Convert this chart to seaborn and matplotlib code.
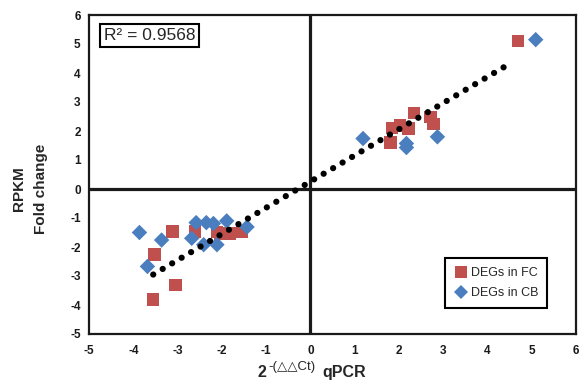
import numpy as np
import pandas as pd
import matplotlib
matplotlib.use("Agg")
import matplotlib.pyplot as plt
import seaborn as sns

# ---- data ----
fc_x = [-3.55, -3.52, -3.11, -3.05, -2.60, -2.11, -2.04, -1.83, -1.55,
        1.81, 1.85, 2.02, 2.22, 2.34, 2.71, 2.78, 4.69]
fc_y = [-3.81, -2.26, -1.47, -3.32, -1.47, -1.48, -1.55, -1.53, -1.48,
        1.60, 2.10, 2.19, 2.08, 2.62, 2.48, 2.25, 5.10]
cb_x = [-3.86, -3.68, -3.36, -2.68, -2.58, -2.41, -2.35, -2.19, -2.11, -1.89, -1.43,
        1.19, 2.17, 2.17, 2.87, 5.09]
cb_y = [-1.50, -2.67, -1.76, -1.70, -1.16, -1.92, -1.16, -1.19, -1.92, -1.10, -1.31,
        1.74, 1.57, 1.43, 1.80, 5.15]
trend_x = [-3.55, 4.48]
trend_y = [-2.95, 4.30]
series_names = ["DEGs in FC", "DEGs in CB"]
x_ticks = [-5, -4, -3, -2, -1, 0, 1, 2, 3, 4, 5, 6]
y_ticks = [-5, -4, -3, -2, -1, 0, 1, 2, 3, 4, 5, 6]
r2_text = "R² = 0.9568"

df = pd.DataFrame({
    "x": fc_x + cb_x,
    "y": fc_y + cb_y,
    "group": [series_names[0]] * len(fc_x) + [series_names[1]] * len(cb_x),
})

sns.set_theme(style="white")
plt.rcParams["font.family"] = ["Liberation Sans", "DejaVu Sans"]
plt.rcParams["axes.unicode_minus"] = False

W, H = 579, 383
fig = plt.figure(figsize=(W / 100, H / 100), dpi=100)
ax = fig.add_axes([89 / W, 1 - 334 / H, (576 - 89) / W, (334 - 15) / H])

# zero axes
ax.axhline(0, color="#1a1a1a", lw=2.3, zorder=1)
ax.axvline(0, color="#1a1a1a", lw=2.3, zorder=1)

# trend line (dotted)
sns.lineplot(x=trend_x, y=trend_y, ax=ax, color="black", linewidth=4.5,
             linestyle=(0, (0.01, 1.75)), dash_capstyle="round", zorder=3)

sns.scatterplot(data=df, x="x", y="y", hue="group", style="group", size="group",
                hue_order=series_names, style_order=series_names,
                size_order=series_names,
                sizes={series_names[0]: 80, series_names[1]: 62},
                markers={series_names[0]: "s", series_names[1]: "D"},
                palette={series_names[0]: "#C0504D", series_names[1]: "#4A7EBE"},
                linewidth=0, ax=ax, zorder=2)

ax.set_xlim(-5, 6)
ax.set_ylim(-5, 6)
ax.set_xticks(x_ticks)
ax.set_yticks(y_ticks)
ax.tick_params(axis="both", length=0, labelsize=8.5, colors="#1a1a1a")
ax.tick_params(axis="x", pad=8)
ax.tick_params(axis="y", pad=6)
for lab in ax.get_xticklabels() + ax.get_yticklabels():
    lab.set_fontweight("bold")
ax.set_xlabel("")
ax.set_ylabel("")
for sp in ax.spines.values():
    sp.set_color("#1a1a1a")
    sp.set_linewidth(1.6)

# R² box
ax.text(0.03, 0.935, r2_text, transform=ax.transAxes, fontsize=12.5,
        va="center", ha="left",
        bbox=dict(boxstyle="square,pad=0.22", fc="white", ec="black", lw=1.5))

# legend
handles, labels = ax.get_legend_handles_labels()
leg = ax.legend(handles, labels, loc="center", bbox_to_anchor=(0.836, 0.16),
                frameon=True, fancybox=False, framealpha=1, edgecolor="black",
                fontsize=9, handletextpad=0.3, handlelength=1.0,
                borderpad=0.75, labelspacing=0.65, markerscale=0.9)
leg.get_frame().set_linewidth(1.5)

# y label
fig.text(30 / W, 1 - 189 / H, "RPKM\nFold change", rotation=90, ha="center",
         va="center", fontsize=11, fontweight="bold", multialignment="center",
         linespacing=1.8)

# x label pieces
fig.text(257 / W, 1 - 377 / H, "2", fontsize=11.5, fontweight="bold",
         ha="left", va="baseline")
fig.text(268 / W, 1 - 370 / H, "-(△△Ct)", fontsize=9.5,
         ha="left", va="baseline", family=["Liberation Sans", "DejaVu Sans"])
fig.text(322 / W, 1 - 377 / H, "qPCR", fontsize=11.5, fontweight="bold",
         ha="left", va="baseline")

fig.savefig("out.png", dpi=100)
